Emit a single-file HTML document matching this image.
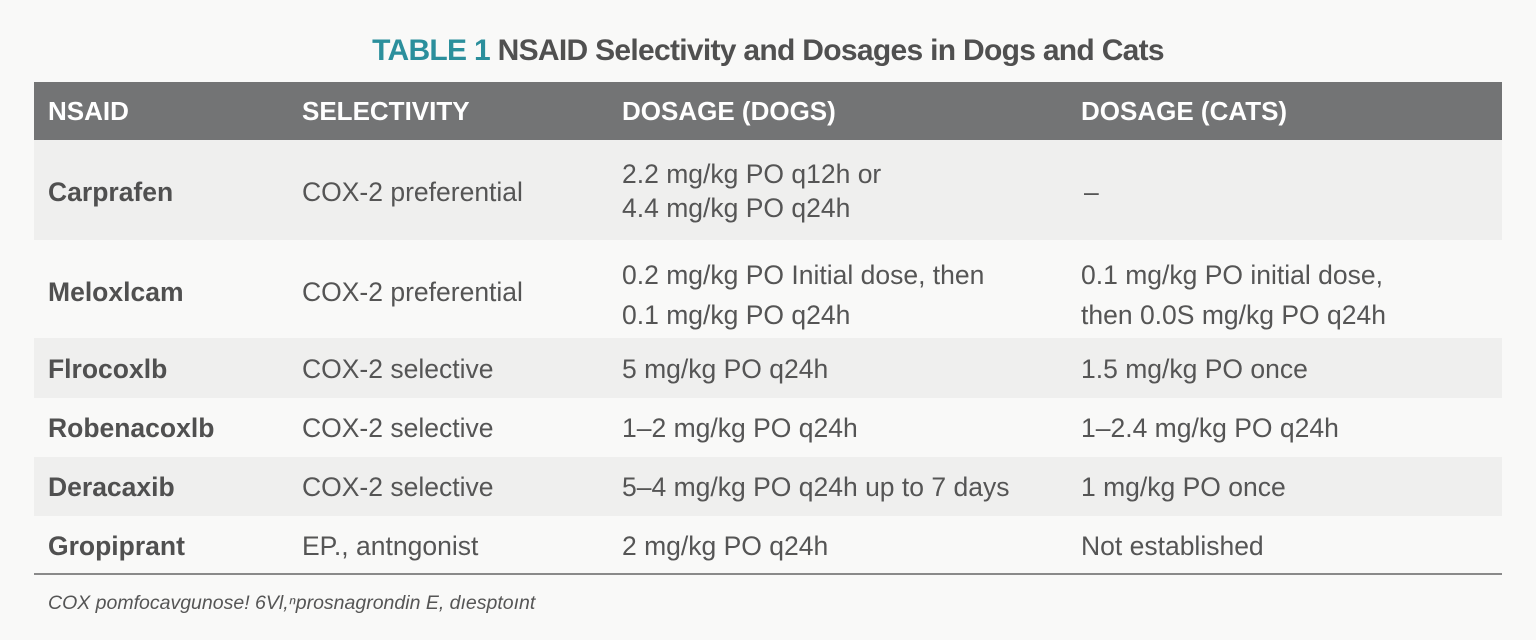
<!DOCTYPE html>
<html><head><meta charset="utf-8"><style>
body{margin:0;width:1536px;height:640px;background:#f9f9f8;font-family:"Liberation Sans",sans-serif;position:relative;overflow:hidden;color:#4a4a4a}
.t{position:absolute;white-space:nowrap}
.title{top:34px;left:0;width:1536px;text-align:center;font-size:30px;font-weight:bold;color:#505050;letter-spacing:-0.7px}
.title span{color:#2b8f9c}
.hdr{position:absolute;left:34px;width:1468px;top:82px;height:58px;background:#737475}
.row{position:absolute;left:34px;width:1468px}
.sh{background:#efefee}
.h{color:#fff;font-size:26px;font-weight:bold;top:96px}
.c{font-size:26.5px;color:#555}
.b{font-weight:bold;color:#505050}
</style></head><body>
<div class="t title"><span>TABLE 1</span> NSAID Selectivity and Dosages in Dogs and Cats</div>
<div class="hdr"></div>
<div class="t h" style="left:48px">NSAID</div>
<div class="t h" style="left:302px">SELECTIVITY</div>
<div class="t h" style="left:622px">DOSAGE (DOGS)</div>
<div class="t h" style="left:1081px">DOSAGE (CATS)</div>
<div class="row sh" style="top:140px;height:100px"></div>
<div class="row sh" style="top:338px;height:60px"></div>
<div class="row sh" style="top:457px;height:59px"></div>
<div style="position:absolute;left:34px;width:1468px;top:573px;height:2px;background:#8a8a8a"></div>

<div class="t c b" style="left:48px;top:177px">Carprafen</div>
<div class="t c" style="left:302px;top:177px">COX-2 preferential</div>
<div class="t c" style="left:622px;top:157px;line-height:34px">2.2 mg/kg PO q12h or<br>4.4 mg/kg PO q24h</div>
<div class="t c" style="left:1084px;top:177px">–</div>

<div class="t c b" style="left:48px;top:277px">Meloxlcam</div>
<div class="t c" style="left:302px;top:277px">COX-2 preferential</div>
<div class="t c" style="left:622px;top:255px;line-height:40px">0.2 mg/kg PO Initial dose, then<br>0.1 mg/kg PO q24h</div>
<div class="t c" style="left:1081px;top:255px;line-height:40px">0.1 mg/kg PO initial dose,<br>then 0.0S mg/kg PO q24h</div>

<div class="t c b" style="left:48px;top:354px">Flrocoxlb</div>
<div class="t c" style="left:302px;top:354px">COX-2 selective</div>
<div class="t c" style="left:622px;top:354px">5 mg/kg PO q24h</div>
<div class="t c" style="left:1081px;top:354px">1.5 mg/kg PO once</div>

<div class="t c b" style="left:48px;top:413px">Robenacoxlb</div>
<div class="t c" style="left:302px;top:413px">COX-2 selective</div>
<div class="t c" style="left:622px;top:413px">1–2 mg/kg PO q24h</div>
<div class="t c" style="left:1081px;top:413px">1–2.4 mg/kg PO q24h</div>

<div class="t c b" style="left:48px;top:472px">Deracaxib</div>
<div class="t c" style="left:302px;top:472px">COX-2 selective</div>
<div class="t c" style="left:622px;top:472px">5–4 mg/kg PO q24h up to 7 days</div>
<div class="t c" style="left:1081px;top:472px">1 mg/kg PO once</div>

<div class="t c b" style="left:48px;top:531px">Gropiprant</div>
<div class="t c" style="left:302px;top:531px">EP., antngonist</div>
<div class="t c" style="left:622px;top:531px">2 mg/kg PO q24h</div>
<div class="t c" style="left:1081px;top:531px">Not established</div>

<div class="t" style="left:48px;top:592px;font-size:19.5px;font-style:italic;color:#555">COX pomfocavgunose! 6Vl,ⁿprosnagrondin E, dıesptoınt</div>
</body></html>
